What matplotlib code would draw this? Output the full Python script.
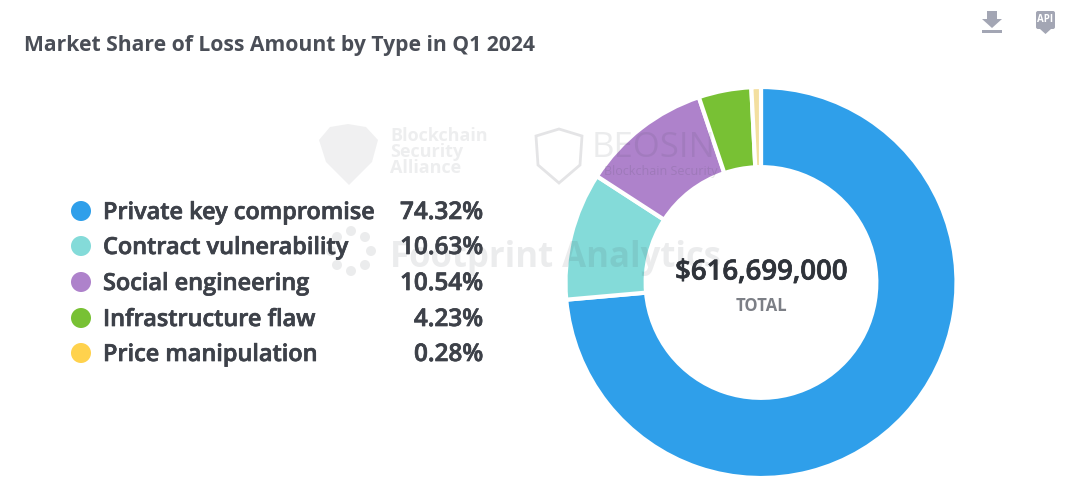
import matplotlib
matplotlib.use("Agg")
import matplotlib.pyplot as plt
import matplotlib.patheffects as pe
from matplotlib.patches import Polygon, Circle, Rectangle, FancyBboxPatch

categories = ["Private key compromise", "Contract vulnerability", "Social engineering",
              "Infrastructure flaw", "Price manipulation"]
share_labels = ["74.32%", "10.63%", "10.54%", "4.23%", "0.28%"]
# slice sizes as measured on the picture, they differ a bit from the printed labels
drawn_shares = [73.6, 10.55, 10.7, 4.36, 0.79]
colors = ["#2F9FEA", "#84DBD9", "#AE82CB", "#78C134", "#FFD24D"]
title = "Market Share of Loss Amount by Type in Q1 2024"
total_label = "$616,699,000"

W, H = 1080, 492
plt.rcParams["font.family"] = ["Open Sans", "DejaVu Sans"]
fig = plt.figure(figsize=(W / 100, H / 100), dpi=100, facecolor="white")

# donut, placed in pixels
cx, cy, R = 761, 282.5, 195.5
ax = fig.add_axes([(cx - R) / W, 1 - (cy + R) / H, 2 * R / W, 2 * R / H])
wedges, _ = ax.pie(drawn_shares, colors=colors, startangle=90, counterclock=False, radius=1,
                   wedgeprops=dict(width=0.41, edgecolor="white", linewidth=3))
wedges[-1].set_facecolor("#F3DFA0")
ax.set_xlim(-1, 1)
ax.set_ylim(-1, 1)

# everything else uses pixel coordinates
ov = fig.add_axes([0, 0, 1, 1])
ov.set_xlim(0, W)
ov.set_ylim(H, 0)
ov.axis("off")
ov.patch.set_alpha(0)

dark = "#3D4149"
thick = [pe.withStroke(linewidth=0.5, foreground=dark)]

# watermarks go under the text
wm = "#40454F"
ov.text(390, 152, "Blockchain\nSecurity\nAlliance", fontsize=13, fontweight="bold", color=wm,
        alpha=0.09, va="center", linespacing=0.85)
ov.add_patch(Polygon([(319, 140), (330, 127), (348, 124), (366, 127), (378, 140), (372, 162),
                      (349, 185), (326, 162)], color=wm, alpha=0.08, lw=0))
ov.add_patch(Polygon([(536, 136), (559, 129), (582, 136), (580, 165), (559, 183), (538, 165)],
                     fill=False, edgecolor=wm, alpha=0.14, lw=2))
ov.text(592, 148, "BEOSIN", fontsize=25, color=wm, alpha=0.1, va="center")
ov.text(604, 171, "Blockchain Security", fontsize=9, color=wm, alpha=0.14, va="center")
ov.text(390, 258, "Footprint Analytics", fontsize=25, fontweight="bold", color=wm,
        alpha=0.1, va="center")
for dx, dy in [(0, -20), (14, -14), (20, 0), (14, 14), (0, 20), (-14, 14), (-20, 0), (-14, -14)]:
    ov.add_patch(Circle((351 + dx, 251 + dy), 5, color=wm, alpha=0.1, lw=0))

ov.text(24, 45, title, fontsize=15.2, fontweight="bold", color="#4A4E57", va="center")

# legend rows
row_y = [213, 248, 284, 320, 355]
for name, lab, col, y in zip(categories, share_labels, colors, row_y):
    ov.add_patch(Circle((81, y - 2), 10, color=col, lw=0))
    ov.text(103, y, name, fontsize=16.9, fontweight="semibold", color=dark, va="center",
            path_effects=thick)
    ov.text(483, y, lab, fontsize=17.5, fontweight="semibold", color=dark, va="center", ha="right",
            path_effects=thick)

# centre labels
ov.text(761, 272, total_label, fontsize=19.9, fontweight="semibold", color="#2F333A",
        ha="center", va="center", path_effects=[pe.withStroke(linewidth=0.5, foreground="#2F333A")])
ov.text(761, 306, "TOTAL", fontsize=12, fontweight="bold", color="#7C7F86",
        ha="center", va="center")

# toolbar icons
icon = "#A3A6B4"
ov.add_patch(Polygon([(987, 11), (997, 11), (997, 19), (1002, 19), (992, 28), (982, 19), (987, 19)],
                     color=icon, lw=0))
ov.add_patch(Rectangle((982, 30), 20, 3, color=icon, lw=0))
ov.add_patch(FancyBboxPatch((1036, 11), 19, 18, boxstyle="round,pad=0,rounding_size=2", color=icon, lw=0))
ov.add_patch(Polygon([(1040, 29), (1051, 29), (1045.5, 34)], color=icon, lw=0))
ov.text(1045.5, 19, "API", fontsize=7, fontweight="bold", color="white", ha="center", va="center")

fig.savefig("out.png", dpi=100)
